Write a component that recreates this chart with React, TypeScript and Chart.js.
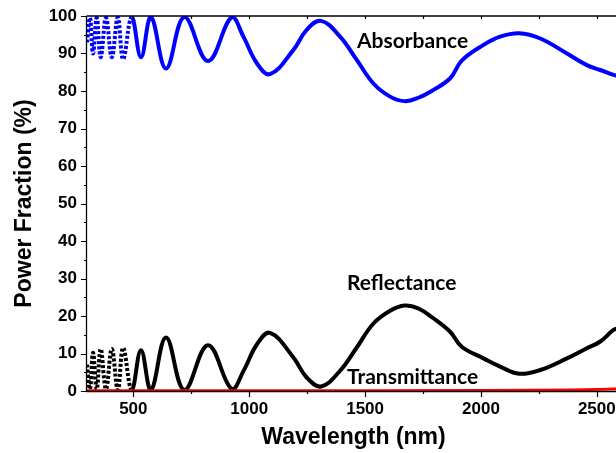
import React, { useEffect, useRef } from "react";
import { Chart, registerables } from "chart.js";

Chart.register(...registerables);

// Wavelength samples (nm)
const wavelengths = [
  300, 313, 326, 342, 359, 382, 407, 433, 456, 493, 533, 576, 641, 720, 822,
  925, 975, 1033, 1090, 1190, 1248, 1310, 1392, 1464, 1536, 1608, 1670, 1730,
  1795, 1867, 1917, 2011, 2083, 2165, 2256, 2371, 2457, 2515, 2572, 2600,
];

// Absorbance (%)
const absorbance = [
  93, 99.5, 90, 99.5, 89, 99.5, 89, 99.6, 88.5, 99.7, 89, 99.7, 86, 99.7, 88,
  99.7, 94.5, 87.4, 84.5, 90.9, 96.3, 98.7, 94.5, 88.3, 82, 78.5, 77.3, 78.2,
  80.3, 83.4, 88.1, 92.3, 94.5, 95.4, 94, 90, 86.9, 85.6, 84.3, 84,
];

// Reflectance (%)
const reflectance = [
  7, 0.5, 10.2, 0.5, 11.2, 0.5, 11.2, 0.3, 11.5, 0.3, 10.9, 0.3, 14.3, 0.3, 12.2,
  0.5, 5.3, 12.4, 15.5, 9.0, 3.6, 1.2, 5.4, 11.6, 18, 21.4, 22.8, 22,
  19.4, 15.8, 11.8, 8.7, 6.5, 4.6, 5.6, 8.7, 11.4, 13.2, 16.3, 17,
];

// Transmittance (%)
const tWavelengths = [300, 1000, 1500, 2000, 2200, 2400, 2550, 2600];
const transmittance = [0.1, 0.1, 0.1, 0.15, 0.2, 0.3, 0.5, 0.6];

const xMajorTicks = [500, 1000, 1500, 2000, 2500];
const xMinorTicks = [750, 1250, 1750, 2250];
const xTopTicks = [500, 750, 1000, 1250, 1500, 1750, 2000, 2250, 2500];
const yMinorTicks = [5, 15, 25, 35, 45, 55, 65, 75, 85, 95];

const seriesNames = ["Absorbance", "Reflectance", "Transmittance"];
const xTitle = "Wavelength (nm)";
const yTitle = "Power Fraction (%)";

const FONT = "'Liberation Sans', Arial, sans-serif";
const NOTE_FONT = "bold 21px Lato, 'Open Sans', sans-serif";

const axesPlugin = {
  id: "customAxes",
  afterDatasetsDraw(chart: any) {
    const { ctx, chartArea: a, scales } = chart;
    const x = scales.x;
    const y = scales.y;
    ctx.save();
    ctx.strokeStyle = "#000";
    ctx.lineWidth = 1.3;
    ctx.beginPath();
    ctx.moveTo(a.left - 0.5, a.top);
    ctx.lineTo(a.left - 0.5, a.bottom + 0.5);
    ctx.moveTo(a.left - 0.5, a.bottom + 0.5);
    ctx.lineTo(a.right, a.bottom + 0.5);
    ctx.moveTo(a.left - 0.5, a.top);
    ctx.lineTo(a.right, a.top);
    ctx.stroke();

    ctx.lineWidth = 1.2;
    ctx.beginPath();
    for (const v of xMajorTicks) {
      const px = Math.round(x.getPixelForValue(v)) + 0.5;
      ctx.moveTo(px, a.bottom);
      ctx.lineTo(px, a.bottom + 6);
    }
    for (const v of xMinorTicks) {
      const px = Math.round(x.getPixelForValue(v)) + 0.5;
      ctx.moveTo(px, a.bottom);
      ctx.lineTo(px, a.bottom + 3);
    }
    for (const v of xTopTicks) {
      const px = Math.round(x.getPixelForValue(v)) + 0.5;
      ctx.moveTo(px, a.top);
      ctx.lineTo(px, a.top + 3);
    }
    for (const t of y.ticks) {
      const py = Math.round(y.getPixelForValue(t.value)) + 0.5;
      ctx.moveTo(a.left, py);
      ctx.lineTo(a.left - 6, py);
    }
    for (const v of yMinorTicks) {
      const py = Math.round(y.getPixelForValue(v)) + 0.5;
      ctx.moveTo(a.left, py);
      ctx.lineTo(a.left - 3, py);
    }
    ctx.stroke();

    ctx.fillStyle = "#000";
    ctx.font = NOTE_FONT;
    ctx.textAlign = "left";
    ctx.textBaseline = "middle";
    const notes: [string, number, number][] = [
      [seriesNames[0], 1465, 93.3],
      [seriesNames[1], 1422, 28.8],
      [seriesNames[2], 1422, 3.7],
    ];
    for (const [txt, vx, vy] of notes) {
      ctx.fillText(txt, x.getPixelForValue(vx), y.getPixelForValue(vy));
    }
    ctx.restore();
  },
};

export default function App() {
  const ref = useRef<HTMLCanvasElement | null>(null);

  useEffect(() => {
    if (!ref.current) return;
    Chart.defaults.font.family = FONT;
    Chart.defaults.color = "#000";
    const dashed = (c: any) => (c.p0.parsed.x < 470 ? [3, 2] : undefined);
    const chart = new Chart(ref.current, {
      type: "line",
      data: {
        datasets: [
          {
            label: seriesNames[2],
            data: tWavelengths.map((w, i) => ({ x: w, y: transmittance[i] })),
            borderColor: "#ff0000",
            borderWidth: 3,
            pointRadius: 0,
            tension: 0,
          },
          {
            label: seriesNames[1],
            data: wavelengths.map((w, i) => ({ x: w, y: reflectance[i] })),
            borderColor: "#000000",
            borderWidth: 4,
            pointRadius: 0,
            tension: 0.4,
            segment: { borderDash: dashed },
          },
          {
            label: seriesNames[0],
            data: wavelengths.map((w, i) => ({ x: w, y: absorbance[i] })),
            borderColor: "#0000ff",
            borderWidth: 4,
            pointRadius: 0,
            tension: 0.4,
            segment: { borderDash: dashed },
          },
        ],
      },
      options: {
        animation: false,
        responsive: false,
        maintainAspectRatio: false,
        layout: { padding: { top: 16, right: 20, left: 0, bottom: 0 } },
        plugins: {
          legend: { display: false },
          tooltip: { enabled: false },
        },
        scales: {
          x: {
            type: "linear",
            min: 300,
            max: 2600,
            grid: { display: false, drawTicks: true, tickLength: 6 },
            border: { display: false },
            afterBuildTicks: (s: any) => {
              s.ticks = xMajorTicks.map((v) => ({ value: v }));
            },
            afterFit: (s: any) => {
              s.height = 62;
            },
            ticks: {
              padding: 2,
              font: { size: 17, weight: "bold" },
              color: "#000",
              maxRotation: 0,
              callback: (v: any) => String(v),
            },
            title: {
              display: true,
              text: xTitle,
              font: { size: 23, weight: "bold" },
              color: "#000",
              padding: { top: 0, bottom: 2 },
            },
          },
          y: {
            min: 0,
            max: 100,
            grid: { display: false, drawTicks: true, tickLength: 6 },
            border: { display: false },
            afterFit: (s: any) => {
              s.width = 87;
            },
            ticks: {
              stepSize: 10,
              padding: 4,
              font: { size: 17, weight: "bold" },
              color: "#000",
            },
            title: {
              display: true,
              text: yTitle,
              font: { size: 23, weight: "bold" },
              color: "#000",
              padding: { top: 11, bottom: 0 },
            },
          },
        },
      },
      plugins: [axesPlugin],
    } as any);
    return () => chart.destroy();
  }, []);

  return (
    <div
      style={{
        position: "fixed",
        left: 0,
        top: 0,
        width: 616,
        height: 453,
        overflow: "hidden",
        background: "#fff",
      }}
    >
      <canvas ref={ref} width={640} height={453} style={{ display: "block", width: 640, height: 453 }} />
    </div>
  );
}
